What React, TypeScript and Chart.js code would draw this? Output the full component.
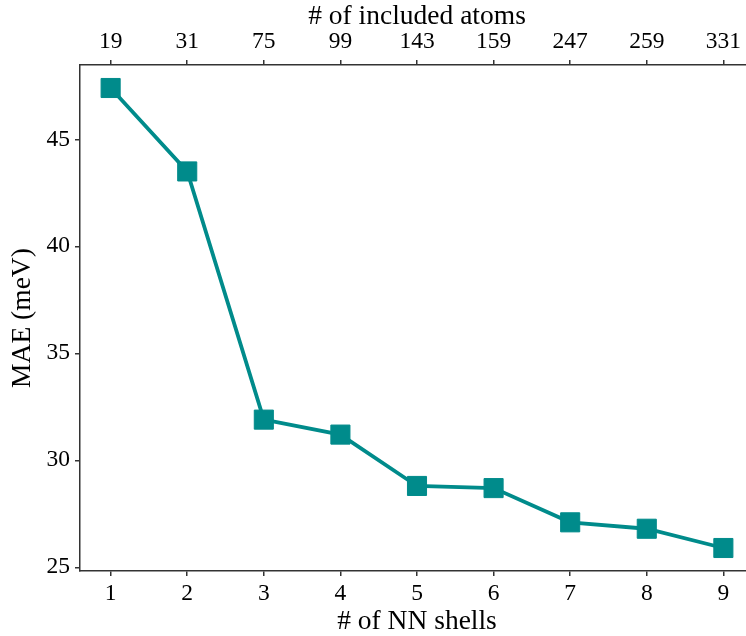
import React, { useEffect, useRef } from "react";
import { Chart, registerables } from "chart.js";

Chart.register(...registerables);

const shells = [1, 2, 3, 4, 5, 6, 7, 8, 9];
const atoms = ["19", "31", "75", "99", "143", "159", "247", "259", "331"];
const mae = [47.4, 43.5, 31.9, 31.2, 28.8, 28.7, 27.1, 26.8, 25.9];
const yTicks = [25, 30, 35, 40, 45];

const FONT = "'Liberation Serif', 'Times New Roman', serif";
const TEAL = "#008b8b";
const AXIS = "#333333";

export default function App() {
  const ref = useRef<HTMLCanvasElement | null>(null);

  useEffect(() => {
    if (!ref.current) return;
    const tickFont = { family: FONT, size: 23.5 };
    const titleFont = { family: FONT, size: 27.5, lineHeight: 1.0 };
    const grid = {
      display: true,
      drawOnChartArea: false,
      drawTicks: true,
      tickLength: 5,
      color: AXIS,
      lineWidth: 1.5,
    };
    const border = { display: true, color: AXIS, width: 1.5 };
    const xTicksBuild = (scale: any) => {
      scale.ticks = shells.map((v) => ({ value: v }));
    };
    const xFit = (s: any) => {
      s.height = 65;
      s.paddingLeft = 0;
      s.paddingRight = 0;
    };
    const chart = new Chart(ref.current, {
      type: "line",
      data: {
        datasets: [
          {
            data: shells.map((s, i) => ({ x: s, y: mae[i] })),
            borderColor: TEAL,
            backgroundColor: TEAL,
            borderWidth: 3.8,
            pointStyle: "rect",
            pointRadius: 13.5,
            pointBorderWidth: 1,
            pointBackgroundColor: TEAL,
            pointBorderColor: TEAL,
            tension: 0,
            clip: false as any,
          },
        ],
      },
      options: {
        animation: false,
        responsive: false,
        maintainAspectRatio: false,
        layout: { autoPadding: false, padding: { left: 0, right: 2, top: 0, bottom: 0 } },
        plugins: { legend: { display: false }, tooltip: { enabled: false } },
        scales: {
          x: {
            type: "linear",
            position: "bottom",
            min: 0.6,
            max: 9.4,
            afterBuildTicks: xTicksBuild,
            afterFit: xFit,
            grid,
            border,
            ticks: { font: tickFont, color: "#000", padding: 4, maxRotation: 0 },
            title: {
              display: true,
              text: "# of NN shells",
              font: titleFont,
              color: "#000",
              padding: { top: 0, bottom: 0 },
            },
          },
          x2: {
            type: "linear",
            position: "top",
            min: 0.6,
            max: 9.4,
            afterBuildTicks: xTicksBuild,
            afterFit: xFit,
            grid,
            border,
            ticks: {
              font: tickFont,
              color: "#000",
              padding: 4,
              maxRotation: 0,
              callback: (v: any) => atoms[Math.round(Number(v)) - 1] ?? "",
            },
            title: {
              display: true,
              text: "# of included atoms",
              font: titleFont,
              color: "#000",
              padding: { top: 3, bottom: 0 },
            },
          },
          y: {
            type: "linear",
            position: "left",
            min: 24.825,
            max: 48.475,
            afterBuildTicks: (scale: any) => {
              scale.ticks = yTicks.map((v) => ({ value: v }));
            },
            afterFit: (s: any) => {
              s.width = 80;
              s.paddingTop = 0;
              s.paddingBottom = 0;
            },
            grid,
            border,
            ticks: { font: tickFont, color: "#000", padding: 5 },
            title: {
              display: true,
              text: "MAE (meV)",
              font: titleFont,
              color: "#000",
              padding: { top: 9, bottom: 0 },
            },
          },
        },
      },
    });
    return () => chart.destroy();
  }, []);

  return (
    <div
      style={{
        position: "absolute",
        left: 0,
        top: 0,
        width: 746,
        height: 636,
        overflow: "hidden",
        background: "#fff",
      }}
    >
      <canvas ref={ref} width={756} height={636} style={{ width: 756, height: 636 }} />
    </div>
  );
}
